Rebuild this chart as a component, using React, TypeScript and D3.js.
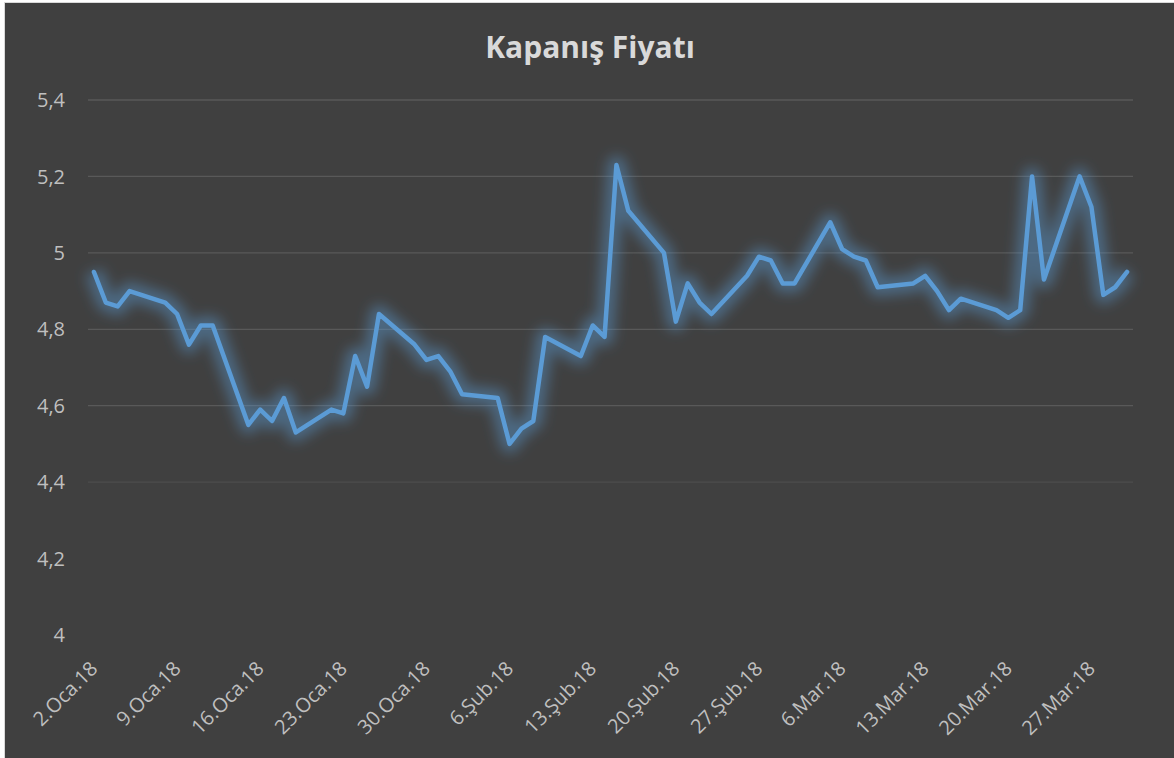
import * as d3 from 'd3';

// Kapanış fiyatı, iş günleri (2 Ocak - 30 Mart 2018)
const dates = [
  '2018-01-02', '2018-01-03', '2018-01-04', '2018-01-05',
  '2018-01-08', '2018-01-09', '2018-01-10', '2018-01-11', '2018-01-12',
  '2018-01-15', '2018-01-16', '2018-01-17', '2018-01-18', '2018-01-19',
  '2018-01-22', '2018-01-23', '2018-01-24', '2018-01-25', '2018-01-26',
  '2018-01-29', '2018-01-30', '2018-01-31', '2018-02-01', '2018-02-02',
  '2018-02-05', '2018-02-06', '2018-02-07', '2018-02-08', '2018-02-09',
  '2018-02-12', '2018-02-13', '2018-02-14', '2018-02-15', '2018-02-16',
  '2018-02-19', '2018-02-20', '2018-02-21', '2018-02-22', '2018-02-23',
  '2018-02-26', '2018-02-27', '2018-02-28', '2018-03-01', '2018-03-02',
  '2018-03-05', '2018-03-06', '2018-03-07', '2018-03-08', '2018-03-09',
  '2018-03-12', '2018-03-13', '2018-03-14', '2018-03-15', '2018-03-16',
  '2018-03-19', '2018-03-20', '2018-03-21', '2018-03-22', '2018-03-23',
  '2018-03-26', '2018-03-27', '2018-03-28', '2018-03-29', '2018-03-30',
];

const closes = [
  4.95, 4.87, 4.86, 4.90,
  4.87, 4.84, 4.76, 4.81, 4.81,
  4.55, 4.59, 4.56, 4.62, 4.53,
  4.59, 4.58, 4.73, 4.65, 4.84,
  4.76, 4.72, 4.73, 4.69, 4.63,
  4.62, 4.50, 4.54, 4.56, 4.78,
  4.73, 4.81, 4.78, 5.23, 5.11,
  5.00, 4.82, 4.92, 4.87, 4.84,
  4.94, 4.99, 4.98, 4.92, 4.92,
  5.08, 5.01, 4.99, 4.98, 4.91,
  4.92, 4.94, 4.90, 4.85, 4.88,
  4.85, 4.83, 4.85, 5.20, 4.93,
  5.20, 5.12, 4.89, 4.91, 4.95,
];

const tickDates = [
  '2018-01-02', '2018-01-09', '2018-01-16', '2018-01-23', '2018-01-30',
  '2018-02-06', '2018-02-13', '2018-02-20', '2018-02-27',
  '2018-03-06', '2018-03-13', '2018-03-20', '2018-03-27',
];
const tickLabels = [
  '2.Oca.18', '9.Oca.18', '16.Oca.18', '23.Oca.18', '30.Oca.18',
  '6.Şub.18', '13.Şub.18', '20.Şub.18', '27.Şub.18',
  '6.Mar.18', '13.Mar.18', '20.Mar.18', '27.Mar.18',
];
const yTicks = [4, 4.2, 4.4, 4.6, 4.8, 5, 5.2, 5.4];

const parse = d3.timeParse('%Y-%m-%d');

export default function App() {
  const width = 1174;
  const height = 758;
  const plot = { left: 88, right: 1133, top: 100, bottom: 635 };

  const points = dates.map((d, i) => ({ date: parse(d) as Date, value: closes[i] }));

  // date axis: each day gets a slot, points sit in the middle of it
  const xScale = d3.scaleTime()
    .domain([d3.timeHour.offset(points[0].date, -12), d3.timeHour.offset(points[points.length - 1].date, 12)])
    .range([plot.left, plot.right]);

  const yScale = d3.scaleLinear()
    .domain([4, 5.4])
    .range([plot.bottom, plot.top]);

  // gridlines fade out towards the bottom
  const gridOpacity = d3.scaleLinear().domain([4.25, 4.55]).range([0, 1]).clamp(true);

  const line = d3.line<{ date: Date; value: number }>()
    .x(d => xScale(d.date))
    .y(d => yScale(d.value));

  const path = line(points) || '';
  const font = '"Open Sans", "DejaVu Sans", sans-serif';

  return (
    <svg width={width} height={height} style={{ position: 'absolute', left: 0, top: 0 }}>
      <defs>
        <filter id="glow" x="-10%" y="-30%" width="120%" height="160%">
          <feGaussianBlur stdDeviation="6.5" />
        </filter>
      </defs>
      <rect x={0} y={0} width={width} height={height} fill="#ffffff" />
      <rect x={4.5} y={2.5} width={width} height={height} fill="#404040" stroke="#d9d9d9" strokeWidth={1} />

      <text x={590} y={58} textAnchor="middle" fontFamily={font} fontWeight="bold" fontSize={30} fill="#d9d9d9">
        Kapanış Fiyatı
      </text>

      {yTicks.map(t => (
        <g key={t}>
          <line
            x1={plot.left}
            x2={plot.right}
            y1={yScale(t)}
            y2={yScale(t)}
            stroke="#595959"
            strokeWidth={1.3}
            strokeOpacity={gridOpacity(t)}
          />
          <text
            x={65}
            y={yScale(t)}
            dy="0.36em"
            textAnchor="end"
            fontFamily={font}
            fontSize={20}
            fill="#bfbfbf"
          >
            {d3.format('.1f')(t).replace('.0', '').replace('.', ',')}
          </text>
        </g>
      ))}

      {tickDates.map((d, i) => (
        <text
          key={d}
          transform={`translate(${xScale(parse(d) as Date) + 5}, 670) rotate(-45)`}
          textAnchor="end"
          fontFamily={font}
          fontSize={20}
          fill="#bfbfbf"
        >
          {tickLabels[i]}
        </text>
      ))}

      <path d={path} fill="none" stroke="#5B9BD5" strokeWidth={18} strokeOpacity={0.45} strokeLinejoin="round" filter="url(#glow)" />
      <path d={path} fill="none" stroke="#5B9BD5" strokeWidth={4.5} strokeLinejoin="round" strokeLinecap="round" />
    </svg>
  );
}
